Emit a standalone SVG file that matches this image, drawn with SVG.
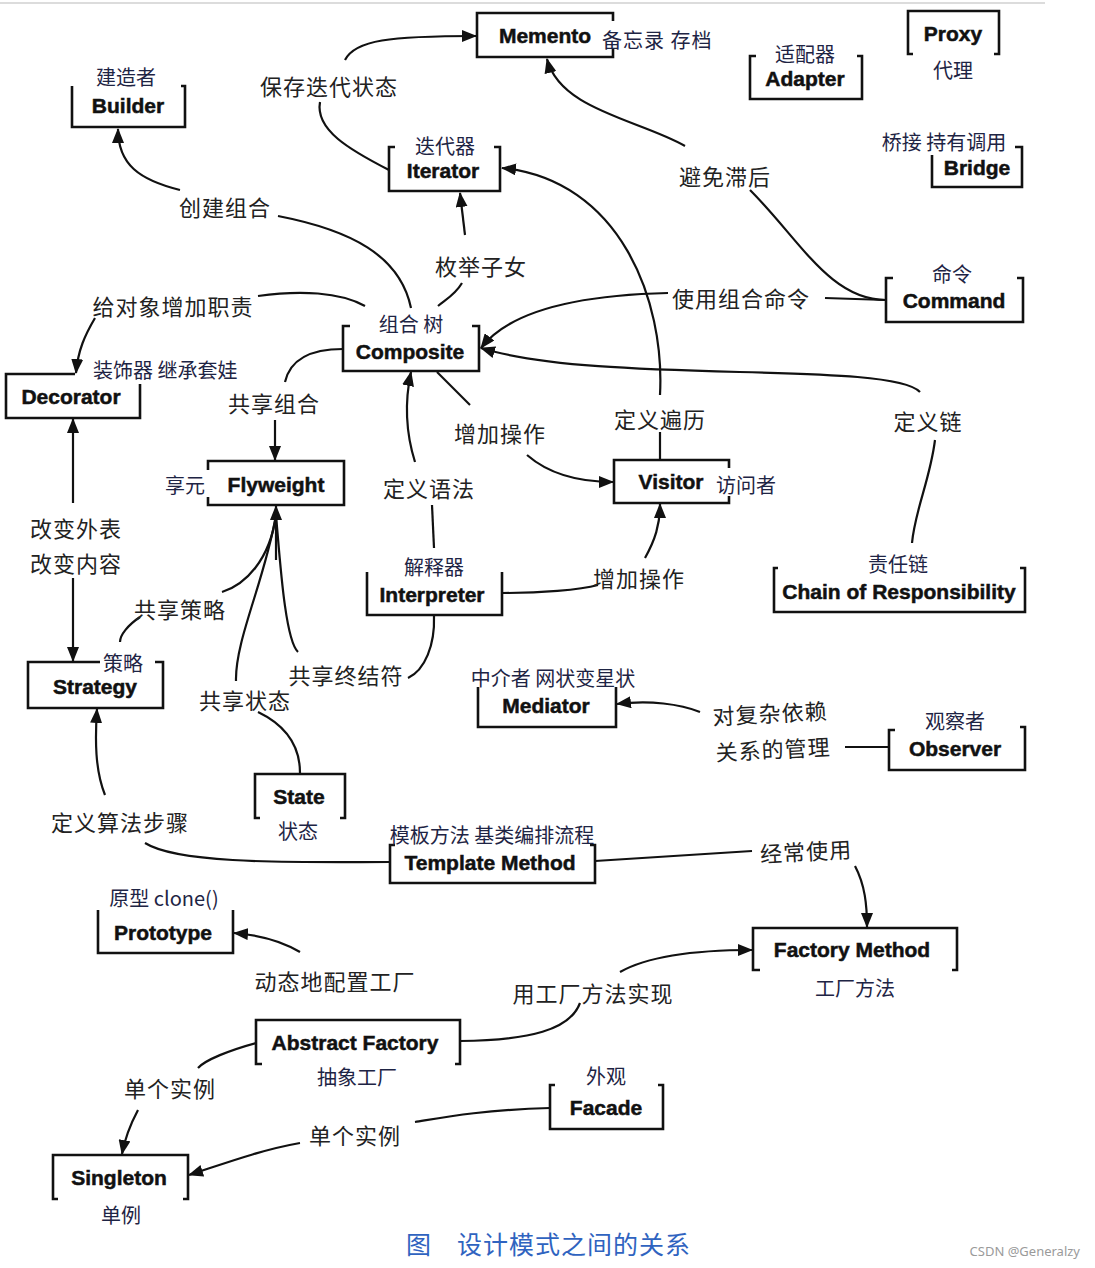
<svg xmlns="http://www.w3.org/2000/svg" width="1095" height="1268" viewBox="0 0 1095 1268">
<style>
.bx{fill:none;stroke:#111;stroke-width:2.6;stroke-linejoin:miter}
.en{font-family:"Liberation Sans",Arial,sans-serif;font-weight:bold;font-size:21px;fill:#111;text-anchor:middle;dominant-baseline:central;stroke:#111;stroke-width:0.5}
.zn{font-family:"Noto Sans CJK SC","Noto Sans",sans-serif;font-size:20px;fill:#1e2444;text-anchor:middle;dominant-baseline:central}
.cl{font-family:"Noto Sans CJK SC","Noto Sans",sans-serif;font-size:22px;letter-spacing:1px;fill:#222;text-anchor:middle;dominant-baseline:central}
.c{fill:none;stroke:#111;stroke-width:2.2}
.a{marker-end:url(#ah)}
</style>
<defs>
<marker id="ah" markerUnits="userSpaceOnUse" markerWidth="16" markerHeight="12" refX="14" refY="6" orient="auto">
<path d="M0,0 L15,6 L0,12 Z" fill="#111"/>
</marker>
</defs>
<rect x="0" y="0" width="1095" height="1268" fill="#fff"/>
<line x1="0" y1="3" x2="1045" y2="3" stroke="#d0d0d0" stroke-width="1.5"/>

<g id="connectors">
<path class="c a" d="M345,60 C355,40 390,36 476,36"/>
<path class="c" d="M389,170 C350,150 315,130 320,102"/>
<path class="c a" d="M685,146 C640,120 560,110 547,59"/>
<path class="c" d="M750,190 C800,240 830,300 886,300"/>
<path class="c a" d="M180,190 C140,180 118,165 118,129"/>
<path class="c" d="M278,216 C350,230 400,255 411,308"/>
<path class="c a" d="M465,235 L460,193"/>
<path class="c" d="M462,283 C455,295 445,300 438,306"/>
<path class="c" d="M258,296 C300,290 340,292 365,306"/>
<path class="c a" d="M95,318 C85,335 78,350 76,373"/>
<path class="c a" d="M668,293 C580,295 510,310 481,348"/>
<path class="c" d="M825,298 L886,300"/>
<path class="c a" d="M660,395 C665,300 620,180 502,168"/>
<path class="c" d="M660,432 L660,460"/>
<path class="c a" d="M920,392 C890,360 600,385 481,348"/>
<path class="c" d="M935,440 C930,480 915,510 912,543"/>
<path class="c" d="M343,349 C310,349 290,360 285,382"/>
<path class="c a" d="M275,420 L275,460"/>
<path class="c" d="M437,372 L470,405"/>
<path class="c a" d="M527,455 C550,475 580,482 613,482"/>
<path class="c a" d="M415,462 C405,430 405,400 411,372"/>
<path class="c" d="M432,505 L434,548"/>
<path class="c a" d="M73,503 L73,419"/>
<path class="c a" d="M73,578 L73,661"/>
<path class="c a" d="M645,558 C655,540 660,525 660,504"/>
<path class="c" d="M502,593 C540,593 580,590 598,585"/>
<path class="c a" d="M276,560 L276,506"/>
<path class="c" d="M276,515 C270,560 245,585 222,592"/>
<path class="c" d="M140,617 C128,625 120,635 120,642"/>
<path class="c" d="M276,515 C265,580 235,640 236,681"/>
<path class="c" d="M258,712 C285,725 300,745 300,773"/>
<path class="c" d="M276,515 C280,560 285,640 298,652"/>
<path class="c" d="M434,616 C435,645 425,670 408,678"/>
<path class="c a" d="M700,712 C680,704 650,700 617,704"/>
<path class="c" d="M845,747 L889,747"/>
<path class="c a" d="M105,795 C95,770 95,740 97,709"/>
<path class="c" d="M145,843 C180,865 300,862 390,862"/>
<path class="c" d="M595,861 L752,851"/>
<path class="c a" d="M855,866 C865,885 867,905 867,927"/>
<path class="c a" d="M300,952 C280,940 260,935 234,933"/>
<path class="c" d="M460,1041 C530,1040 570,1030 580,1003"/>
<path class="c a" d="M620,972 C650,955 700,950 752,950"/>
<path class="c" d="M256,1043 C230,1050 205,1060 198,1068"/>
<path class="c a" d="M138,1110 C130,1125 125,1138 122,1154"/>
<path class="c" d="M550,1108 C480,1110 440,1118 415,1122"/>
<path class="c a" d="M300,1143 C260,1150 220,1165 189,1175"/>
</g>

<g id="memento"><path class="bx" d="M613,21 L613,13 L477,13 L477,57 L613,57 L613,49"/><text class="en" x="545" y="35">Memento</text><text class="zn" x="602" y="39" style="text-anchor:start;letter-spacing:1px">备忘录 存档</text></g>
<g id="builder"><path class="bx" d="M72,86 L72,127 L185,127 L185,86 L181,86"/><text class="en" x="128" y="105">Builder</text><text class="zn" x="126" y="76">建造者</text></g>
<g id="proxy"><path class="bx" d="M913,54 L908,54 L908,11 L999,11 L999,54 L994,54"/><text class="en" x="953" y="33">Proxy</text><text class="zn" x="953" y="69">代理</text></g>
<g id="adapter"><path class="bx" d="M756,56 L750,56 L750,99 L862,99 L862,56 L857,56"/><text class="en" x="805" y="78">Adapter</text><text class="zn" x="805" y="53">适配器</text></g>
<g id="bridge"><path class="bx" d="M1015,147 L1022,147 L1022,187 L932,187 L932,155"/><text class="en" x="977" y="167">Bridge</text><text class="zn" x="944" y="141">桥接 持有调用</text></g>
<g id="iterator"><path class="bx" d="M395,147 L389,147 L389,191 L500,191 L500,147 L494,147"/><text class="en" x="443" y="170">Iterator</text><text class="zn" x="445" y="145">迭代器</text></g>
<g id="command"><path class="bx" d="M893,278 L886,278 L886,322 L1023,322 L1023,278 L1017,278"/><text class="en" x="954" y="300">Command</text><text class="zn" x="952" y="273">命令</text></g>
<g id="composite"><path class="bx" d="M350,326 L343,326 L343,371 L479,371 L479,326 L472,326"/><text class="en" x="410" y="351">Composite</text><text class="zn" x="411" y="323">组合 树</text></g>
<g id="decorator"><path class="bx" d="M75,374 L6,374 L6,418 L140,418 L140,384"/><text class="en" x="71" y="396">Decorator</text><text class="zn" x="93" y="369" style="text-anchor:start">装饰器 继承套娃</text></g>
<g id="flyweight"><path class="bx" d="M208,470 L208,461 L344,461 L344,505 L208,505 L208,497"/><text class="en" x="276" y="484">Flyweight</text><text class="zn" x="185" y="484">享元</text></g>
<g id="visitor"><path class="bx" d="M729,468 L729,460 L614,460 L614,503 L729,503 L729,496"/><text class="en" x="671" y="481">Visitor</text><text class="zn" x="716" y="484" style="text-anchor:start">访问者</text></g>
<g id="interpreter"><path class="bx" d="M367,572 L367,615 L502,615 L502,572"/><text class="en" x="432" y="594">Interpreter</text><text class="zn" x="434" y="566">解释器</text></g>
<g id="chain"><path class="bx" d="M778,568 L774,568 L774,612 L1025,612 L1025,568 L1020,568"/><text class="en" x="899" y="591">Chain of Responsibility</text><text class="zn" x="898" y="563">责任链</text></g>
<g id="strategy"><path class="bx" d="M100,662 L28,662 L28,708 L163,708 L163,662 L155,662"/><text class="en" x="95" y="686">Strategy</text><text class="zn" x="123" y="662">策略</text></g>
<g id="mediator"><path class="bx" d="M478,687 L478,727 L616,727 L616,687"/><text class="en" x="546" y="705">Mediator</text><text class="zn" x="553" y="677">中介者 网状变星状</text></g>
<g id="observer"><path class="bx" d="M895,730 L889,730 L889,770 L1025,770 L1025,727 L1020,727"/><text class="en" x="955" y="748">Observer</text><text class="zn" x="955" y="720">观察者</text></g>
<g id="state"><path class="bx" d="M260,818 L255,818 L255,774 L345,774 L345,818 L340,818"/><text class="en" x="299" y="796">State</text><text class="zn" x="298" y="830">状态</text></g>
<g id="template"><path class="bx" d="M395,845 L390,845 L390,883 L595,883 L595,845 L590,845"/><text class="en" x="490" y="862">Template Method</text><text class="zn" x="492" y="834">模板方法 基类编排流程</text></g>
<g id="prototype"><path class="bx" d="M98,910 L98,953 L233,953 L233,910"/><text class="en" x="163" y="932">Prototype</text><text class="zn" x="164" y="897">原型 clone()</text></g>
<g id="factorymethod"><path class="bx" d="M760,970 L753,970 L753,928 L957,928 L957,970 L952,970"/><text class="en" x="852" y="949">Factory Method</text><text class="zn" x="855" y="987">工厂方法</text></g>
<g id="abstractfactory"><path class="bx" d="M262,1064 L256,1064 L256,1020 L460,1020 L460,1064 L455,1064"/><text class="en" x="355" y="1042">Abstract Factory</text><text class="zn" x="357" y="1076">抽象工厂</text></g>
<g id="facade"><path class="bx" d="M555,1085 L550,1085 L550,1129 L663,1129 L663,1085 L658,1085"/><text class="en" x="606" y="1107">Facade</text><text class="zn" x="606" y="1075">外观</text></g>
<g id="singleton"><path class="bx" d="M58,1199 L53,1199 L53,1155 L188,1155 L188,1199 L183,1199"/><text class="en" x="119" y="1177">Singleton</text><text class="zn" x="121" y="1214">单例</text></g>

<g id="labels">
<text class="cl" x="329" y="85">保存迭代状态</text>
<text class="cl" x="225" y="206">创建组合</text>
<text class="cl" x="725" y="175">避免滞后</text>
<text class="cl" x="481" y="265">枚举子女</text>
<text class="cl" x="173" y="305">给对象增加职责</text>
<text class="cl" x="741" y="297">使用组合命令</text>
<text class="cl" x="274" y="402">共享组合</text>
<text class="cl" x="500" y="432">增加操作</text>
<text class="cl" x="660" y="418">定义遍历</text>
<text class="cl" x="928" y="420">定义链</text>
<text class="cl" x="429" y="487">定义语法</text>
<text class="cl" x="76" y="527">改变外表</text>
<text class="cl" x="76" y="562">改变内容</text>
<text class="cl" x="639" y="577">增加操作</text>
<text class="cl" x="180" y="608">共享策略</text>
<text class="cl" x="346" y="674">共享终结符</text>
<text class="cl" x="245" y="699">共享状态</text>
<text class="cl" x="770" y="712" transform="rotate(-3 770 712)">对复杂依赖</text>
<text class="cl" x="773" y="748" transform="rotate(-3 773 748)">关系的管理</text>
<text class="cl" x="120" y="821">定义算法步骤</text>
<text class="cl" x="806" y="850" transform="rotate(-3 806 850)">经常使用</text>
<text class="cl" x="335" y="980">动态地配置工厂</text>
<text class="cl" x="593" y="992">用工厂方法实现</text>
<text class="cl" x="170" y="1087">单个实例</text>
<text class="cl" x="355" y="1134">单个实例</text>
<text x="406" y="1254" style="font-family:'Noto Sans CJK SC',sans-serif;font-size:25px;fill:#2f63c0">图</text>
<text x="457" y="1254" style="font-family:'Noto Sans CJK SC',sans-serif;font-size:25px;fill:#2f63c0;letter-spacing:1px">设计模式之间的关系</text>
<text x="1080" y="1256" style="font-family:'Noto Sans','Liberation Sans',sans-serif;font-size:13px;fill:#9a9a9a;text-anchor:end">CSDN @Generalzy</text>
</g>
</svg>
